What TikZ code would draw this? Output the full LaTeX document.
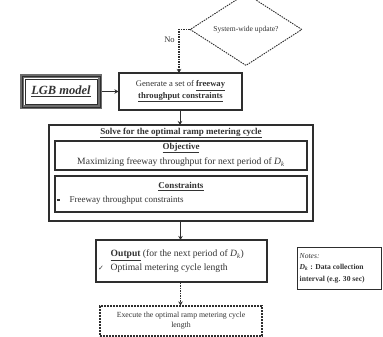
\documentclass[tikz,border=0pt]{standalone}
\usepackage{fontspec}
\setmainfont{Liberation Serif}
\newfontfamily\symfont{DejaVu Sans}
\usetikzlibrary{shapes.geometric,arrows.meta}
\definecolor{ink}{HTML}{2E2E2E}
\definecolor{txt}{HTML}{333333}
\newcommand{\Dk}{\textit{D}\textsubscript{\textit{k}}}
\begin{document}
\begin{tikzpicture}[x=1pt,y=-1pt,
  box/.style={draw=ink,line width=1.2pt,inner sep=0pt,text=txt,align=center},
  dbox/.style={draw=ink,line width=1.2pt,dash pattern=on 2pt off 1pt,inner sep=0pt,text=txt,align=center},
  arr/.style={draw=ink,line width=1pt,-{Stealth[length=4pt,width=4.5pt]}},
  darr/.style={draw=ink,line width=1.3pt,dash pattern=on 1.5pt off 1pt,-{Stealth[length=4pt,width=4.5pt]}},
  lbl/.style={text=txt,inner sep=0pt}]
\useasboundingbox[fill=white] (0,0) rectangle (383,337);
% diamond
\node[dbox,shape=diamond,minimum width=112pt,minimum height=45pt,font=\fontsize{7.6}{8}\selectfont,line width=0.9pt,dash pattern=on 1.5pt off 1pt] (dia) at (246,29.5) {System-wide update?};
% generate
\node[box,minimum width=123pt,minimum height=37pt,font=\fontsize{8.6}{10.5}\selectfont] (gen) at (180.5,91.5)
  {Generate a set of \underline{\textbf{freeway}}\\[1pt]\underline{\textbf{throughput constraints}}};
% LGB
\node[draw=ink!70,line width=3.2pt,minimum width=78pt,minimum height=31pt,inner sep=0pt] (lgb) at (61,91.5) {};
\draw[ink,line width=0.5pt] (22.2,76.2) rectangle (99.8,106.8);
\draw[ink,line width=0.5pt] (25,79) rectangle (97,104);
\node[lbl,font=\fontsize{12.5}{14}\selectfont\bfseries\itshape] (lgbt) at (61,91.5) {\underline{LGB model}};
% solve
\node[box,minimum width=264pt,minimum height=96pt] (solve) at (181,173) {};
\node[lbl,font=\fontsize{9}{10}\selectfont\bfseries] (soltitle) at (181,133) {\underline{Solve for the optimal ramp metering cycle}};
\node[box,minimum width=252pt,minimum height=29pt] (obj) at (181,155.5) {};
\node[lbl,font=\fontsize{9}{10}\selectfont\bfseries] (objt) at (181,148) {\underline{Objective}};
\node[lbl,font=\fontsize{9.6}{10}\selectfont] (objx) at (181,162.5) {Maximizing freeway throughput for next period of \Dk};
\node[box,minimum width=252pt,minimum height=36pt] (cons) at (181,194) {};
\node[lbl,font=\fontsize{9}{10}\selectfont\bfseries] (const) at (181,186.5) {\underline{Constraints}};
\node[fill=txt,minimum size=2.5pt,inner sep=0pt] (bul) at (58.5,200) {};
\node[lbl,anchor=west,font=\fontsize{9}{10}\selectfont] (consx) at (69.5,200.5) {Freeway throughput constraints};
% output
\node[box,minimum width=171pt,minimum height=42pt] (out) at (181.5,261) {};
\node[lbl,anchor=west,font=\fontsize{9.6}{10}\selectfont] (outt) at (110.5,255.5) {\underline{\textbf{Output}} (for the next period of \Dk)};
\node[lbl,font=\fontsize{7}{10}\selectfont\symfont] (chk) at (101,268) {✓};
\node[lbl,anchor=west,font=\fontsize{9.6}{10}\selectfont] (outx) at (110.5,268.5) {Optimal metering cycle length};
% notes
\node[box,line width=0.9pt,minimum width=84pt,minimum height=42pt] (notes) at (339,268) {};
\node[lbl,anchor=west,font=\fontsize{7.6}{11.5}\selectfont,align=left] (notest) at (299.5,268)
  {\textit{Notes:}\\\textbf{\textit{D}\textsubscript{\textit{k}} : Data collection}\\\textbf{interval (e.g. 30 sec)}};
% execute
\node[dbox,minimum width=162pt,minimum height=30pt,font=\fontsize{7.8}{10}\selectfont] (exec) at (181,321)
  {Execute the optimal ramp metering cycle\\length};
% connectors
\coordinate (corner) at (179,29.5);
\draw[darr] (dia.west) -- (corner) -- (179,73);
\node[lbl,font=\fontsize{8.5}{10}\selectfont] (no) at (169.5,40) {No};
\draw[arr] (lgb.east) -- (gen.west);
\draw[arr] (gen.south -| 180,0) -- (180,125);
\draw[arr] (solve.south -| 180.5,0) -- (180.5,240);
\draw[darr] (out.south -| 180.5,0) -- (exec.north -| 180.5,0);
\end{tikzpicture}
\end{document}
